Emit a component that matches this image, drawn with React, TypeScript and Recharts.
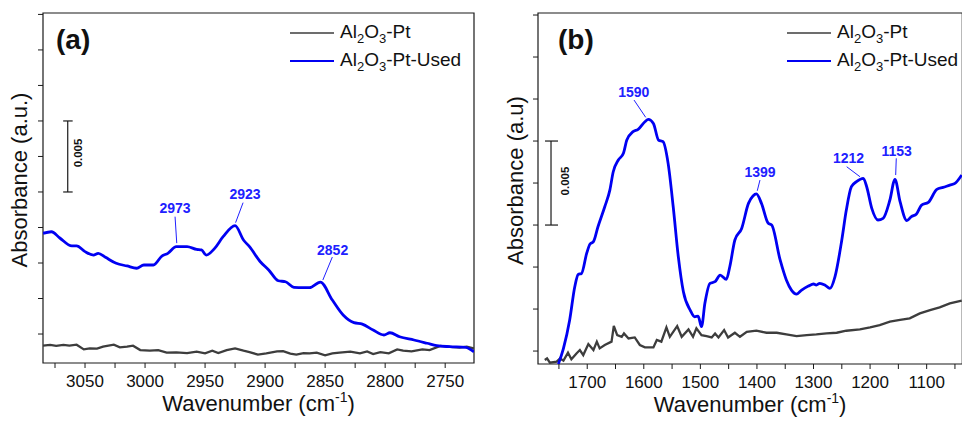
import React from "react";
import {
  LineChart,
  Line,
  XAxis,
  YAxis,
  ReferenceArea,
  ReferenceLine,
  ReferenceDot,
  Legend,
} from "recharts";

// absorbance values are in units of 1e-3 a.u. (scale bar = 5 units = 0.005)

// ---- panel (a): 3100-2700 cm-1
const aFreshWn = [3085, 3079, 3074, 3068, 3063, 3057, 3051, 3046, 3040, 3035, 3026, 3021, 3015, 3010, 3004, 2996, 2989, 2982, 2974, 2965, 2957, 2950, 2944, 2939, 2932, 2925, 2918, 2913, 2906, 2899, 2890, 2885, 2879, 2874, 2868, 2863, 2857, 2850, 2844, 2838, 2829, 2821, 2815, 2810, 2804, 2797, 2790, 2785, 2778, 2769, 2763, 2754, 2746, 2738, 2732, 2726];
const aFreshAbs = [-0.82, -0.77, -0.84, -0.77, -0.82, -0.75, -1.08, -1.01, -1.03, -0.89, -0.75, -0.94, -0.89, -0.82, -1.13, -1.17, -1.13, -1.31, -1.29, -1.34, -1.24, -1.36, -1.17, -1.34, -1.13, -1.01, -1.17, -1.27, -1.45, -1.36, -1.22, -1.2, -1.38, -1.45, -1.34, -1.36, -1.31, -1.5, -1.36, -1.31, -1.24, -1.36, -1.22, -1.41, -1.27, -1.36, -1.08, -1.17, -1.22, -1.08, -1.13, -0.84, -0.91, -0.96, -0.89, -1.01];
const aUsedWn = [3085, 3078, 3071, 3061, 3057, 3050, 3043, 3039, 3033, 3024, 3015, 3007, 3001, 2993, 2986, 2981, 2974, 2965, 2957, 2953, 2949, 2942, 2935, 2925, 2918, 2913, 2904, 2897, 2889, 2883, 2876, 2868, 2863, 2854, 2844, 2835, 2826, 2819, 2810, 2801, 2796, 2788, 2776, 2765, 2757, 2746, 2733, 2726];
const aUsedAbs = [7.09, 7.2, 6.76, 6.2, 6.2, 5.8, 5.56, 5.68, 5.4, 4.98, 4.79, 4.63, 4.86, 4.86, 5.49, 5.68, 6.15, 6.15, 5.96, 5.92, 5.56, 6.03, 6.85, 7.63, 6.62, 6.15, 5.09, 4.51, 3.75, 3.68, 3.29, 3.26, 3.26, 3.66, 2.39, 1.34, 0.8, 0.7, 0.28, -0.07, 0.09, -0.19, -0.42, -0.65, -0.82, -0.89, -0.94, -1.25];
const aPeaks = [2973, 2923, 2852];
const aXMajor = [3050, 3000, 2950, 2900, 2850, 2800, 2750];
const aXMinor = [3075, 3025, 2975, 2925, 2875, 2825, 2775];
const aYTicks = [0, 2.5, 5, 7.5, 10, 12.5, 15, 17.5, 20, 22.5];

// ---- panel (b): 1800-1000 cm-1
const bFreshWn = [1775, 1771, 1766, 1754, 1748, 1742, 1734, 1728, 1719, 1713, 1707, 1698, 1689, 1683, 1678, 1669, 1657, 1653, 1647, 1639, 1635, 1627, 1616, 1607, 1598, 1583, 1577, 1569, 1560, 1554, 1541, 1533, 1521, 1513, 1507, 1498, 1489, 1480, 1474, 1468, 1458, 1451, 1439, 1430, 1418, 1401, 1383, 1365, 1348, 1330, 1312, 1295, 1277, 1259, 1242, 1218, 1200, 1183, 1165, 1147, 1130, 1112, 1094, 1077, 1059, 1038];
const bFreshAbs = [-3.03, -2.94, -3.19, -3.13, -2.94, -3.07, -2.6, -2.99, -2.64, -2.44, -2.74, -2.08, -2.44, -1.94, -2.34, -2.14, -1.94, -1.01, -1.55, -1.65, -1.45, -1.75, -1.69, -2.14, -2.28, -2.28, -1.84, -1.94, -1.09, -1.65, -1.01, -1.65, -1.21, -1.65, -1.15, -1.55, -1.61, -1.69, -1.45, -1.69, -1.25, -1.69, -1.41, -1.65, -1.35, -1.29, -1.41, -1.41, -1.51, -1.61, -1.55, -1.51, -1.45, -1.41, -1.29, -1.21, -1.09, -0.95, -0.75, -0.65, -0.55, -0.26, -0.06, 0.1, 0.34, 0.5];
const bUsedWn = [1751, 1742, 1731, 1722, 1716, 1710, 1701, 1695, 1689, 1681, 1669, 1660, 1654, 1645, 1636, 1630, 1619, 1610, 1598, 1592, 1583, 1574, 1566, 1557, 1548, 1539, 1530, 1518, 1510, 1504, 1498, 1492, 1483, 1474, 1465, 1454, 1448, 1439, 1427, 1415, 1407, 1401, 1392, 1380, 1374, 1359, 1348, 1339, 1330, 1321, 1309, 1300, 1295, 1289, 1280, 1271, 1262, 1250, 1242, 1233, 1224, 1212, 1206, 1197, 1186, 1177, 1165, 1156, 1147, 1135, 1127, 1118, 1109, 1097, 1082, 1071, 1059, 1050, 1038];
const bUsedAbs = [-3.27, -2.34, -0.65, 1.33, 2.06, 2.12, 3.31, 3.87, 4.01, 4.9, 6.09, 7.08, 8.17, 8.87, 9.27, 10.06, 10.56, 10.69, 11.15, 11.29, 11.05, 10.06, 9.96, 8.67, 6.09, 3.12, 1.03, -0.06, -0.46, -0.42, -1.05, 0.34, 1.53, 1.63, 2.02, 1.77, 2.52, 4.11, 4.8, 6.29, 6.73, 6.85, 6.29, 5.1, 5.0, 2.92, 1.73, 1.13, 0.89, 1.13, 1.37, 1.49, 1.43, 1.53, 1.43, 1.23, 1.93, 4.11, 5.89, 7.28, 7.58, 7.78, 7.28, 5.99, 5.3, 5.4, 6.49, 7.72, 6.39, 5.26, 5.5, 5.66, 6.19, 6.35, 7.12, 7.24, 7.38, 7.48, 7.98];
const bPeaks = [1590, 1399, 1212, 1153];
const bXMajor = [1700, 1600, 1500, 1400, 1300, 1200, 1100];
const bXMinor = [1750, 1650, 1550, 1450, 1350, 1250, 1150, 1050];
const bYTicks = [-2.5, 0, 2.5, 5, 7.5, 10, 12.5, 15, 17.5];

const FONT = "'Liberation Sans', Arial, Helvetica, sans-serif";
const INK = "#1a1a1a";
const GRAY = "#3d3d3d";
const BLUE = "#0000f2";
const LABEL_BLUE = "#2020ff";

type Pt = { wn: number; abs: number };
type PeakLayout = { line: number[]; text: number[] };

const zip = (wn: number[], abs: number[]): Pt[] => wn.map((w, i) => ({ wn: w, abs: abs[i] }));

// nearest sampled point of a series to a labelled peak
const nearest = (pts: Pt[], target: number) =>
  pts.reduce((best, p) => (Math.abs(p.wn - target) < Math.abs(best.wn - target) ? p : best), pts[0]);

// offsets (px) of leader line and label from the peak point
const aPeakLayout: PeakLayout[] = [
  { line: [0.5, -3.5, -1.2, -30], text: [-1.2, -33.4] },
  { line: [0.5, -3, 8, -23], text: [10, -26.3] },
  { line: [2.5, -2, 12, -25], text: [12.3, -27] },
];
const bPeakLayout: PeakLayout[] = [
  { line: [-2.6, -2, -14.3, -19.3], text: [-14.5, -22] },
  { line: [0.9, -3.2, 3.6, -13.9], text: [3.6, -17.2] },
  { line: [-3.3, -1.6, -16.6, -11.6], text: [-14.8, -15] },
  { line: [0.7, -4.3, 1.3, -21], text: [1.7, -23.6] },
];

function Chem({ text }: { text: string }) {
  return (
    <>
      {text.split(/(\d)/).map((part, i) =>
        /^\d$/.test(part) ? (
          <span key={i} style={{ fontSize: 13, position: "relative", top: 5 }}>
            {part}
          </span>
        ) : (
          <span key={i}>{part}</span>
        )
      )}
    </>
  );
}

const legendContent = ({ payload }: any) => (
  <div style={{ fontFamily: FONT, color: "#111" }}>
    {(payload ?? []).map((item: any) => (
      <div key={item.value} style={{ display: "flex", alignItems: "center", height: 28 }}>
        <svg width={44} height={6} style={{ display: "block" }}>
          <line x1={0} y1={3} x2={44} y2={3} stroke={item.color} strokeWidth={item.color === BLUE ? 2.2 : 1.6} />
        </svg>
        <span style={{ marginLeft: 6, fontSize: 19, lineHeight: "22px", whiteSpace: "nowrap" }}>
          <Chem text={item.value} />
        </span>
      </div>
    ))}
  </div>
);

interface PanelProps {
  tag: string;
  tagDx: number;
  width: number;
  left: number;
  right: number;
  xAxisHeight: number;
  xDomain: [number, number];
  yDomain: [number, number];
  xMajor: number[];
  xMinor: number[];
  yTicks: number[];
  fresh: Pt[];
  used: Pt[];
  peaks: number[];
  peakLayout: PeakLayout[];
  bar: { x: number; cap: [number, number]; y: [number, number]; textDx: number; textDy: number };
  yTitle: string;
  yTitleDx: number;
  legendLeft: number;
}

function Panel(p: PanelProps) {
  const H = 423;
  const xTicks = [...p.xMajor, ...p.xMinor];

  const xTick = ({ x, y, payload }: any) => (
    <g>
      <line x1={x} y1={y} x2={x} y2={y + 5} stroke={INK} />
      {p.xMajor.includes(payload.value) && (
        <text x={x} y={y + 24} textAnchor="middle" fontSize={17} fontFamily={FONT} fill="#111">
          {payload.value}
        </text>
      )}
    </g>
  );
  const yTick = ({ x, y }: any) => <line x1={x - 5} y1={y} x2={x} y2={y} stroke={INK} />;

  const xTitle = ({ viewBox }: any) => (
    <text x={viewBox.x + viewBox.width / 2} y={viewBox.y + 48} textAnchor="middle" fontSize={22} fontFamily={FONT} fill="#111">
      Wavenumber (cm<tspan dy={-9} fontSize={14}>-1</tspan>
      <tspan dy={9}>)</tspan>
    </text>
  );
  // frame label: panel tag and y title, placed against the plot rectangle
  const frameLabel = ({ viewBox }: any) => {
    const cx = viewBox.x + p.yTitleDx;
    const cy = viewBox.y + viewBox.height / 2 - 8;
    return (
      <g>
        <text x={viewBox.x + p.tagDx} y={viewBox.y + 36} fontSize={28} fontWeight="bold" fontFamily={FONT} fill="#111">
          {p.tag}
        </text>
        <text x={cx} y={cy} transform={`rotate(-90 ${cx} ${cy})`} textAnchor="middle" fontSize={22} fontFamily={FONT} fill="#111">
          {p.yTitle}
        </text>
      </g>
    );
  };

  const barMid = (p.bar.y[0] + p.bar.y[1]) / 2;

  return (
    <LineChart width={p.width} height={H} margin={{ top: 13, right: p.right, bottom: 0, left: 0 }}>
      <XAxis
        type="number"
        dataKey="wn"
        domain={p.xDomain}
        reversed
        allowDataOverflow
        ticks={xTicks}
        interval={0}
        tickSize={0}
        tickMargin={0}
        tickLine={false}
        axisLine={false}
        height={p.xAxisHeight}
        tick={xTick}
        label={{ content: xTitle }}
      />
      <YAxis
        type="number"
        domain={p.yDomain}
        allowDataOverflow
        ticks={p.yTicks}
        interval={0}
        width={p.left}
        tickSize={0}
        tickMargin={0}
        tickLine={false}
        axisLine={false}
        tick={yTick}
      />
      <ReferenceArea
        x1={p.xDomain[0]}
        x2={p.xDomain[1]}
        y1={p.yDomain[0]}
        y2={p.yDomain[1]}
        ifOverflow="visible"
        fill="none"
        fillOpacity={0}
        stroke={INK}
        strokeWidth={1.2}
        label={{ content: frameLabel }}
      />
      <Line data={p.fresh} dataKey="abs" name="Al2O3-Pt" type="linear" stroke={GRAY} strokeWidth={2.3} dot={false} isAnimationActive={false} />
      <Line data={p.used} dataKey="abs" name="Al2O3-Pt-Used" type="monotone" stroke={BLUE} strokeWidth={2.8} dot={false} isAnimationActive={false} />

      {/* 0.005 scale bar */}
      <ReferenceLine segment={[{ x: p.bar.x, y: p.bar.y[0] }, { x: p.bar.x, y: p.bar.y[1] }]} stroke={INK} strokeWidth={1.2} />
      {p.bar.y.map((yy) => (
        <ReferenceLine key={yy} segment={[{ x: p.bar.cap[0], y: yy }, { x: p.bar.cap[1], y: yy }]} stroke={INK} strokeWidth={1.2} />
      ))}
      <ReferenceDot
        x={p.bar.x}
        y={barMid}
        shape={({ cx, cy }: any) => {
          const tx = cx + p.bar.textDx;
          const ty = cy + p.bar.textDy;
          return (
            <text x={tx} y={ty} transform={`rotate(-90 ${tx} ${ty})`} textAnchor="middle" fontSize={11.5} fontWeight="bold" fontFamily={FONT} fill="#111">
              0.005
            </text>
          );
        }}
      />

      {p.peaks.map((peak, i) => {
        const pt = nearest(p.used, peak);
        const l = p.peakLayout[i];
        return (
          <ReferenceDot
            key={peak}
            x={pt.wn}
            y={pt.abs}
            shape={({ cx, cy }: any) => (
              <g>
                <line x1={cx + l.line[0]} y1={cy + l.line[1]} x2={cx + l.line[2]} y2={cy + l.line[3]} stroke={LABEL_BLUE} strokeWidth={1} />
                <text x={cx + l.text[0]} y={cy + l.text[1]} textAnchor="middle" fontSize={14} fontWeight="bold" fontFamily={FONT} fill={LABEL_BLUE}>
                  {peak}
                </text>
              </g>
            )}
          />
        );
      })}

      <Legend
        layout="horizontal"
        verticalAlign="middle"
        align="center"
        content={legendContent}
        wrapperStyle={{ left: p.legendLeft, top: 19, width: "auto", height: "auto" }}
      />
    </LineChart>
  );
}

export default function App() {
  return (
    <div style={{ position: "fixed", left: 0, top: 0, width: 962, height: 423, overflow: "hidden", background: "#fff" }}>
      <div style={{ position: "absolute", left: 0, top: 0 }}>
        <Panel
          tag="(a)"
          tagDx={13}
          width={480}
          left={43}
          right={6}
          xAxisHeight={60}
          xDomain={[2726, 3085]}
          yDomain={[-2.04, 22.6]}
          xMajor={aXMajor}
          xMinor={aXMinor}
          yTicks={aYTicks}
          fresh={zip(aFreshWn, aFreshAbs)}
          used={zip(aUsedWn, aUsedAbs)}
          peaks={aPeaks}
          peakLayout={aPeakLayout}
          bar={{ x: 3064.4, cap: [3068.2, 3060.3], y: [10, 15], textDx: 14, textDy: -3.5 }}
          yTitle="Absorbance (a.u.)"
          yTitleDx={-16}
          legendLeft={290}
        />
      </div>
      <div style={{ position: "absolute", left: 480, top: 0 }}>
        <Panel
          tag="(b)"
          tagDx={20}
          width={490}
          left={58}
          right={7.7}
          xAxisHeight={59}
          xDomain={[1037, 1787]}
          yDomain={[-3.27, 17.62]}
          xMajor={bXMajor}
          xMinor={bXMinor}
          yTicks={bYTicks}
          fresh={zip(bFreshWn, bFreshAbs)}
          used={zip(bUsedWn, bUsedAbs)}
          peaks={bPeaks}
          peakLayout={bPeakLayout}
          bar={{ x: 1764, cap: [1774.6, 1751.6], y: [5, 10], textDx: 18, textDy: -2 }}
          yTitle="Absorbance (a.u)"
          yTitleDx={-15.5}
          legendLeft={307}
        />
      </div>
    </div>
  );
}
